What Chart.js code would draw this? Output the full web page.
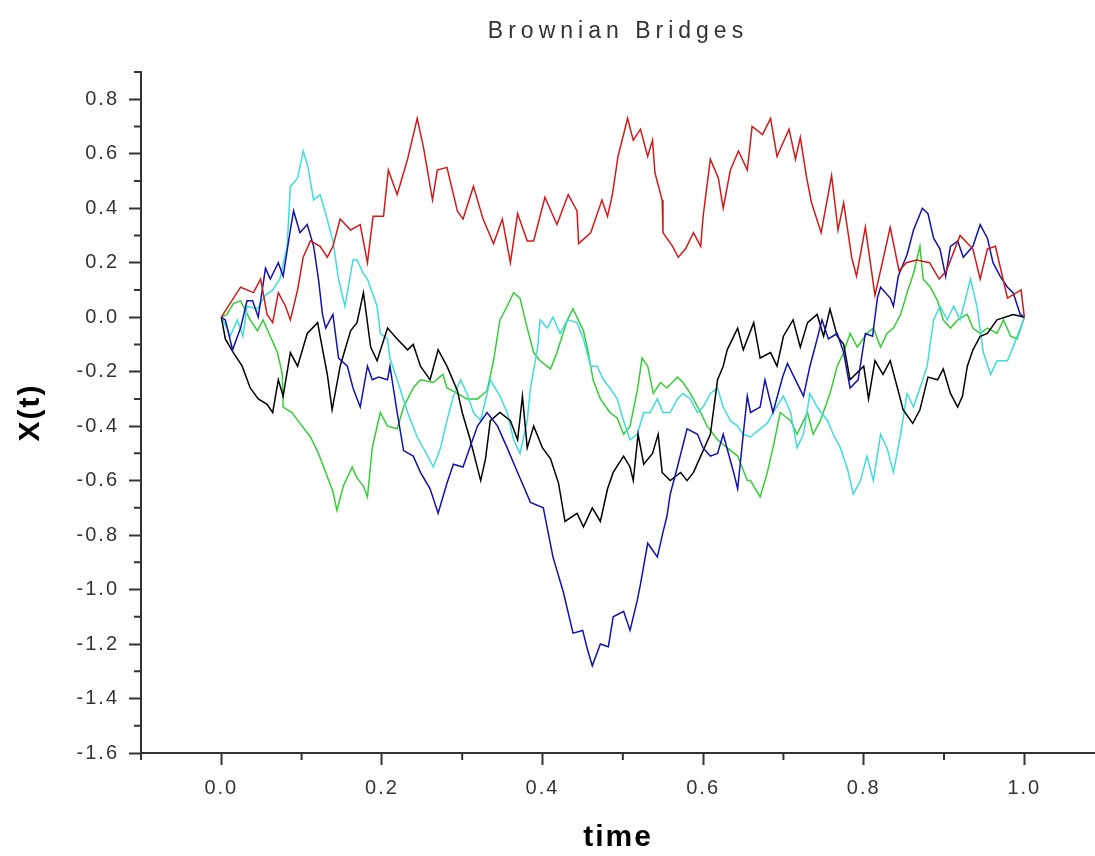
<!DOCTYPE html>
<html>
<head>
  <meta charset="UTF-8">
  <title>Brownian Bridges</title>
  <script src="https://cdn.jsdelivr.net/npm/chart.js"></script>
  <style>
    body {
      margin: 0;
      background: #ffffff;
    }
    canvas {
      display: block;
    }
  </style>
</head>
<body>
  <canvas id="bridgeChart" width="1095" height="856"></canvas>

  <script>
    // [time, X(t)], one list per path
    const red = [[0,0],[0.024,0.11],[0.032,0.10],[0.040,0.09],[0.049,0.14],[0.057,0.01],[0.064,-0.02],[0.071,0.09],[0.080,0.04],[0.086,-0.01],[0.095,0.10],[0.102,0.22],[0.111,0.28],[0.123,0.26],[0.132,0.22],[0.139,0.26],[0.148,0.36],[0.161,0.32],[0.173,0.34],[0.182,0.20],[0.189,0.37],[0.202,0.37],[0.208,0.54],[0.219,0.45],[0.232,0.58],[0.244,0.73],[0.252,0.62],[0.263,0.43],[0.269,0.54],[0.281,0.55],[0.294,0.39],[0.301,0.36],[0.314,0.48],[0.326,0.36],[0.339,0.27],[0.350,0.36],[0.360,0.20],[0.369,0.38],[0.381,0.28],[0.389,0.28],[0.403,0.44],[0.418,0.34],[0.432,0.45],[0.443,0.39],[0.445,0.27],[0.460,0.31],[0.474,0.43],[0.481,0.37],[0.487,0.45],[0.494,0.59],[0.506,0.73],[0.513,0.65],[0.522,0.69],[0.531,0.59],[0.537,0.65],[0.540,0.53],[0.549,0.43],[0.550,0.31],[0.562,0.26],[0.569,0.22],[0.578,0.25],[0.588,0.31],[0.597,0.26],[0.600,0.37],[0.609,0.58],[0.619,0.51],[0.625,0.40],[0.634,0.54],[0.644,0.61],[0.655,0.54],[0.661,0.70],[0.674,0.67],[0.684,0.73],[0.692,0.59],[0.707,0.69],[0.715,0.58],[0.721,0.66],[0.729,0.51],[0.735,0.42],[0.747,0.31],[0.760,0.52],[0.768,0.32],[0.775,0.42],[0.785,0.22],[0.791,0.15],[0.802,0.33],[0.814,0.08],[0.833,0.33],[0.844,0.17],[0.853,0.20],[0.866,0.21],[0.882,0.20],[0.894,0.14],[0.903,0.17],[0.920,0.30],[0.936,0.25],[0.945,0.14],[0.954,0.25],[0.964,0.26],[0.979,0.07],[0.996,0.10],[1,0]];

    const black = [[0,0],[0.005,-0.08],[0.015,-0.13],[0.026,-0.18],[0.036,-0.26],[0.046,-0.30],[0.057,-0.32],[0.064,-0.35],[0.071,-0.23],[0.077,-0.29],[0.086,-0.13],[0.095,-0.18],[0.107,-0.06],[0.120,-0.02],[0.123,-0.07],[0.132,-0.21],[0.138,-0.34],[0.148,-0.18],[0.161,-0.05],[0.169,-0.02],[0.177,0.09],[0.186,-0.11],[0.194,-0.16],[0.207,-0.04],[0.219,-0.08],[0.232,-0.12],[0.239,-0.10],[0.248,-0.18],[0.260,-0.23],[0.270,-0.12],[0.281,-0.18],[0.294,-0.27],[0.300,-0.35],[0.310,-0.45],[0.323,-0.60],[0.329,-0.52],[0.335,-0.38],[0.347,-0.35],[0.360,-0.38],[0.369,-0.45],[0.375,-0.29],[0.381,-0.48],[0.389,-0.40],[0.400,-0.48],[0.410,-0.52],[0.420,-0.61],[0.428,-0.75],[0.443,-0.72],[0.451,-0.77],[0.462,-0.70],[0.472,-0.75],[0.481,-0.63],[0.488,-0.57],[0.501,-0.51],[0.509,-0.55],[0.513,-0.60],[0.519,-0.43],[0.526,-0.54],[0.537,-0.50],[0.544,-0.43],[0.549,-0.57],[0.559,-0.60],[0.572,-0.57],[0.580,-0.60],[0.588,-0.57],[0.597,-0.51],[0.609,-0.43],[0.618,-0.23],[0.625,-0.18],[0.630,-0.12],[0.643,-0.04],[0.650,-0.12],[0.663,-0.02],[0.671,-0.15],[0.684,-0.13],[0.692,-0.18],[0.700,-0.07],[0.712,-0.01],[0.721,-0.11],[0.730,-0.02],[0.742,0.01],[0.750,-0.07],[0.758,0.03],[0.767,-0.07],[0.775,-0.10],[0.783,-0.23],[0.800,-0.18],[0.806,-0.30],[0.814,-0.16],[0.824,-0.21],[0.833,-0.16],[0.842,-0.26],[0.849,-0.34],[0.861,-0.39],[0.870,-0.34],[0.880,-0.22],[0.892,-0.23],[0.899,-0.19],[0.908,-0.28],[0.917,-0.33],[0.923,-0.29],[0.929,-0.18],[0.936,-0.12],[0.945,-0.07],[0.954,-0.06],[0.966,-0.01],[0.986,0.01],[1,0]];

    const blue = [[0,0],[0.005,-0.01],[0.014,-0.12],[0.024,-0.04],[0.032,0.06],[0.039,0.06],[0.046,0.0],[0.055,0.18],[0.061,0.14],[0.071,0.20],[0.077,0.15],[0.086,0.32],[0.090,0.39],[0.098,0.31],[0.107,0.34],[0.115,0.26],[0.121,0.14],[0.126,0.01],[0.130,-0.04],[0.139,0.01],[0.146,-0.15],[0.157,-0.18],[0.164,-0.26],[0.173,-0.33],[0.182,-0.18],[0.188,-0.23],[0.196,-0.22],[0.207,-0.23],[0.210,-0.18],[0.219,-0.35],[0.227,-0.49],[0.239,-0.51],[0.248,-0.57],[0.260,-0.63],[0.270,-0.72],[0.281,-0.61],[0.289,-0.54],[0.301,-0.55],[0.319,-0.40],[0.331,-0.35],[0.344,-0.40],[0.356,-0.48],[0.369,-0.57],[0.385,-0.68],[0.401,-0.70],[0.407,-0.79],[0.413,-0.88],[0.426,-1.01],[0.438,-1.16],[0.450,-1.15],[0.456,-1.22],[0.462,-1.28],[0.472,-1.20],[0.482,-1.21],[0.488,-1.10],[0.501,-1.08],[0.509,-1.15],[0.518,-1.04],[0.522,-0.98],[0.531,-0.83],[0.543,-0.88],[0.550,-0.79],[0.555,-0.73],[0.559,-0.65],[0.568,-0.55],[0.580,-0.41],[0.593,-0.43],[0.600,-0.48],[0.609,-0.51],[0.618,-0.50],[0.625,-0.43],[0.638,-0.57],[0.643,-0.63],[0.650,-0.43],[0.655,-0.29],[0.659,-0.35],[0.671,-0.33],[0.677,-0.23],[0.687,-0.35],[0.699,-0.22],[0.705,-0.17],[0.715,-0.23],[0.725,-0.29],[0.733,-0.18],[0.742,-0.08],[0.748,-0.01],[0.756,-0.08],[0.767,-0.06],[0.775,-0.13],[0.783,-0.26],[0.793,-0.23],[0.802,-0.06],[0.811,-0.07],[0.817,0.07],[0.821,0.11],[0.833,0.07],[0.837,0.04],[0.843,0.15],[0.854,0.23],[0.862,0.32],[0.873,0.40],[0.880,0.38],[0.887,0.29],[0.895,0.25],[0.902,0.15],[0.908,0.26],[0.917,0.28],[0.924,0.22],[0.936,0.26],[0.945,0.34],[0.954,0.29],[0.961,0.20],[0.970,0.15],[0.979,0.11],[0.986,0.09],[0.995,0.01],[1,0]];

    const cyan = [[0,0],[0.007,-0.04],[0.011,-0.07],[0.020,-0.01],[0.027,-0.07],[0.032,0.04],[0.045,0.03],[0.055,0.08],[0.064,0.10],[0.073,0.14],[0.082,0.26],[0.086,0.48],[0.095,0.51],[0.102,0.61],[0.108,0.55],[0.115,0.43],[0.123,0.45],[0.130,0.38],[0.139,0.28],[0.146,0.14],[0.154,0.04],[0.164,0.21],[0.169,0.21],[0.177,0.16],[0.182,0.14],[0.188,0.09],[0.194,0.04],[0.198,-0.06],[0.207,-0.08],[0.210,-0.15],[0.219,-0.23],[0.232,-0.35],[0.244,-0.44],[0.257,-0.51],[0.264,-0.55],[0.273,-0.48],[0.281,-0.38],[0.289,-0.29],[0.298,-0.23],[0.306,-0.28],[0.314,-0.35],[0.323,-0.38],[0.335,-0.23],[0.347,-0.29],[0.356,-0.35],[0.364,-0.45],[0.372,-0.50],[0.381,-0.38],[0.385,-0.26],[0.394,-0.11],[0.397,-0.01],[0.406,-0.04],[0.413,0.0],[0.422,-0.06],[0.431,-0.01],[0.443,-0.02],[0.451,-0.08],[0.460,-0.18],[0.468,-0.18],[0.476,-0.23],[0.484,-0.26],[0.493,-0.30],[0.501,-0.38],[0.509,-0.45],[0.518,-0.43],[0.526,-0.35],[0.534,-0.35],[0.543,-0.30],[0.550,-0.35],[0.559,-0.35],[0.568,-0.30],[0.575,-0.28],[0.584,-0.30],[0.593,-0.35],[0.600,-0.33],[0.609,-0.28],[0.618,-0.26],[0.625,-0.33],[0.634,-0.38],[0.643,-0.40],[0.650,-0.43],[0.659,-0.44],[0.671,-0.41],[0.680,-0.39],[0.687,-0.35],[0.700,-0.29],[0.709,-0.35],[0.717,-0.48],[0.725,-0.43],[0.733,-0.28],[0.742,-0.33],[0.755,-0.38],[0.762,-0.43],[0.771,-0.48],[0.780,-0.56],[0.787,-0.65],[0.796,-0.60],[0.804,-0.51],[0.812,-0.60],[0.821,-0.43],[0.829,-0.48],[0.837,-0.57],[0.846,-0.43],[0.854,-0.28],[0.862,-0.33],[0.870,-0.26],[0.879,-0.18],[0.887,-0.01],[0.895,0.04],[0.904,-0.01],[0.912,0.04],[0.920,-0.01],[0.933,0.14],[0.941,0.04],[0.949,-0.13],[0.958,-0.21],[0.966,-0.16],[0.979,-0.16],[0.986,-0.11],[0.995,-0.04],[1,0]];

    const green = [[0,0],[0.007,0.01],[0.015,0.05],[0.024,0.06],[0.036,-0.01],[0.045,-0.05],[0.052,-0.01],[0.061,-0.07],[0.070,-0.13],[0.076,-0.21],[0.077,-0.33],[0.088,-0.35],[0.098,-0.39],[0.111,-0.44],[0.121,-0.50],[0.130,-0.57],[0.139,-0.64],[0.144,-0.71],[0.152,-0.62],[0.163,-0.55],[0.169,-0.59],[0.177,-0.62],[0.182,-0.66],[0.188,-0.48],[0.198,-0.35],[0.207,-0.40],[0.219,-0.41],[0.227,-0.33],[0.239,-0.26],[0.248,-0.23],[0.264,-0.24],[0.276,-0.21],[0.281,-0.26],[0.294,-0.28],[0.306,-0.30],[0.319,-0.30],[0.331,-0.27],[0.339,-0.16],[0.347,-0.01],[0.356,0.04],[0.364,0.09],[0.372,0.07],[0.381,-0.04],[0.389,-0.13],[0.397,-0.16],[0.410,-0.19],[0.418,-0.13],[0.431,-0.01],[0.438,0.03],[0.451,-0.05],[0.457,-0.13],[0.463,-0.23],[0.472,-0.30],[0.484,-0.35],[0.493,-0.37],[0.501,-0.43],[0.509,-0.40],[0.518,-0.27],[0.524,-0.15],[0.531,-0.18],[0.538,-0.28],[0.547,-0.24],[0.555,-0.26],[0.568,-0.22],[0.575,-0.24],[0.584,-0.28],[0.597,-0.35],[0.605,-0.40],[0.618,-0.45],[0.630,-0.48],[0.643,-0.51],[0.655,-0.60],[0.659,-0.60],[0.671,-0.66],[0.680,-0.57],[0.687,-0.48],[0.696,-0.35],[0.709,-0.38],[0.717,-0.43],[0.730,-0.35],[0.737,-0.43],[0.746,-0.38],[0.758,-0.28],[0.767,-0.18],[0.775,-0.13],[0.783,-0.06],[0.792,-0.11],[0.804,-0.06],[0.812,-0.04],[0.821,-0.11],[0.829,-0.06],[0.837,-0.04],[0.846,0.01],[0.854,0.09],[0.862,0.16],[0.870,0.26],[0.874,0.14],[0.883,0.11],[0.892,0.06],[0.899,-0.01],[0.908,-0.04],[0.917,-0.01],[0.929,0.01],[0.936,-0.04],[0.945,-0.06],[0.954,-0.04],[0.966,-0.06],[0.974,-0.01],[0.983,-0.07],[0.991,-0.08],[1,0]];

    const xTicks = [0.0, 0.2, 0.4, 0.6, 0.8, 1.0];
    const xMinor = [-0.1, 0.1, 0.3, 0.5, 0.7, 0.9];
    const yTicks = [-1.6, -1.4, -1.2, -1.0, -0.8, -0.6, -0.4, -0.2, 0.0, 0.2, 0.4, 0.6, 0.8];
    const yMinor = [-1.5, -1.3, -1.1, -0.9, -0.7, -0.5, -0.3, -0.1, 0.1, 0.3, 0.5, 0.7, 0.9];

    const paths = [
      { name: 'red', pts: red, color: '#d01a1a' },
      { name: 'blue', pts: blue, color: '#1212a8' },
      { name: 'black', pts: black, color: '#000000' },
      { name: 'cyan', pts: cyan, color: '#3fdcdc' },
      { name: 'green', pts: green, color: '#35cc35' }
    ];

    const axisColor = '#333333';
    const fontFamily = "'Liberation Sans', Arial, sans-serif";

    // small ticks between the labelled ones
    const minorTicks = {
      id: 'minorTicks',
      afterDraw(chart) {
        const { ctx, scales: { x, y } } = chart;
        ctx.save();
        ctx.strokeStyle = axisColor;
        ctx.lineWidth = 2;
        ctx.beginPath();
        xMinor.forEach(v => {
          const px = x.getPixelForValue(v);
          ctx.moveTo(px, x.top);
          ctx.lineTo(px, x.top + 7);
        });
        yMinor.forEach(v => {
          const py = y.getPixelForValue(v);
          ctx.moveTo(y.right, py);
          ctx.lineTo(y.right - 7, py);
        });
        ctx.stroke();
        ctx.restore();
      }
    };

    // the source image has widely tracked lettering
    const tracking = {
      id: 'tracking',
      afterInit(chart) {
        const tb = chart.titleBlock;
        if (!tb) return;
        const draw = tb.draw;
        tb.draw = function (...args) {
          chart.ctx.save();
          chart.ctx.letterSpacing = '5px';
          draw.apply(this, args);
          chart.ctx.restore();
        };
      },
      beforeDraw(chart) {
        chart.ctx.letterSpacing = '2px';
      }
    };

    const ctx = document.getElementById('bridgeChart').getContext('2d');

    new Chart(ctx, {
      type: 'line',
      data: {
        datasets: paths.map(p => ({
          label: p.name,
          data: p.pts.map(([t, v]) => ({ x: t, y: v })),
          borderColor: p.color,
          borderWidth: 1.5,
          pointRadius: 0,
          tension: 0,
          fill: false
        }))
      },
      options: {
        responsive: false,
        animation: false,
        layout: { padding: 0 },
        plugins: {
          legend: { display: false },
          tooltip: { enabled: false },
          title: {
            display: true,
            text: 'Brownian Bridges',
            fullSize: false,
            color: '#333333',
            font: { family: fontFamily, size: 23, weight: 'normal', lineHeight: 1 },
            padding: { top: 20, bottom: 29 }
          }
        },
        scales: {
          x: {
            type: 'linear',
            min: -0.1,
            max: 1.088,
            afterBuildTicks: axis => { axis.ticks = xTicks.map(v => ({ value: v })); },
            afterFit: axis => { axis.height = 103; },
            border: { color: axisColor, width: 2 },
            grid: {
              drawOnChartArea: false,
              drawTicks: true,
              tickLength: 12,
              tickColor: axisColor,
              tickWidth: 2
            },
            ticks: {
              autoSkip: false,
              maxRotation: 0,
              padding: 11,
              color: '#333333',
              font: { family: fontFamily, size: 20 },
              callback: v => v.toFixed(1)
            },
            title: {
              display: true,
              text: 'time',
              color: '#000000',
              font: { family: fontFamily, size: 30, weight: 'bold' },
              padding: { top: 0, bottom: 0 }
            }
          },
          y: {
            min: -1.6,
            max: 0.9,
            afterBuildTicks: axis => { axis.ticks = yTicks.map(v => ({ value: v })); },
            afterFit: axis => { axis.width = 141; },
            border: { color: axisColor, width: 2 },
            grid: {
              drawOnChartArea: false,
              drawTicks: true,
              tickLength: 12,
              tickColor: axisColor,
              tickWidth: 2
            },
            ticks: {
              autoSkip: false,
              padding: 10,
              color: '#333333',
              font: { family: fontFamily, size: 20 },
              callback: v => v.toFixed(1)
            },
            title: {
              display: true,
              text: 'X(t)',
              color: '#000000',
              font: { family: fontFamily, size: 30, weight: 'bold' },
              padding: { top: 13, bottom: 0 }
            }
          }
        }
      },
      plugins: [minorTicks, tracking]
    });
  </script>
</body>
</html>
